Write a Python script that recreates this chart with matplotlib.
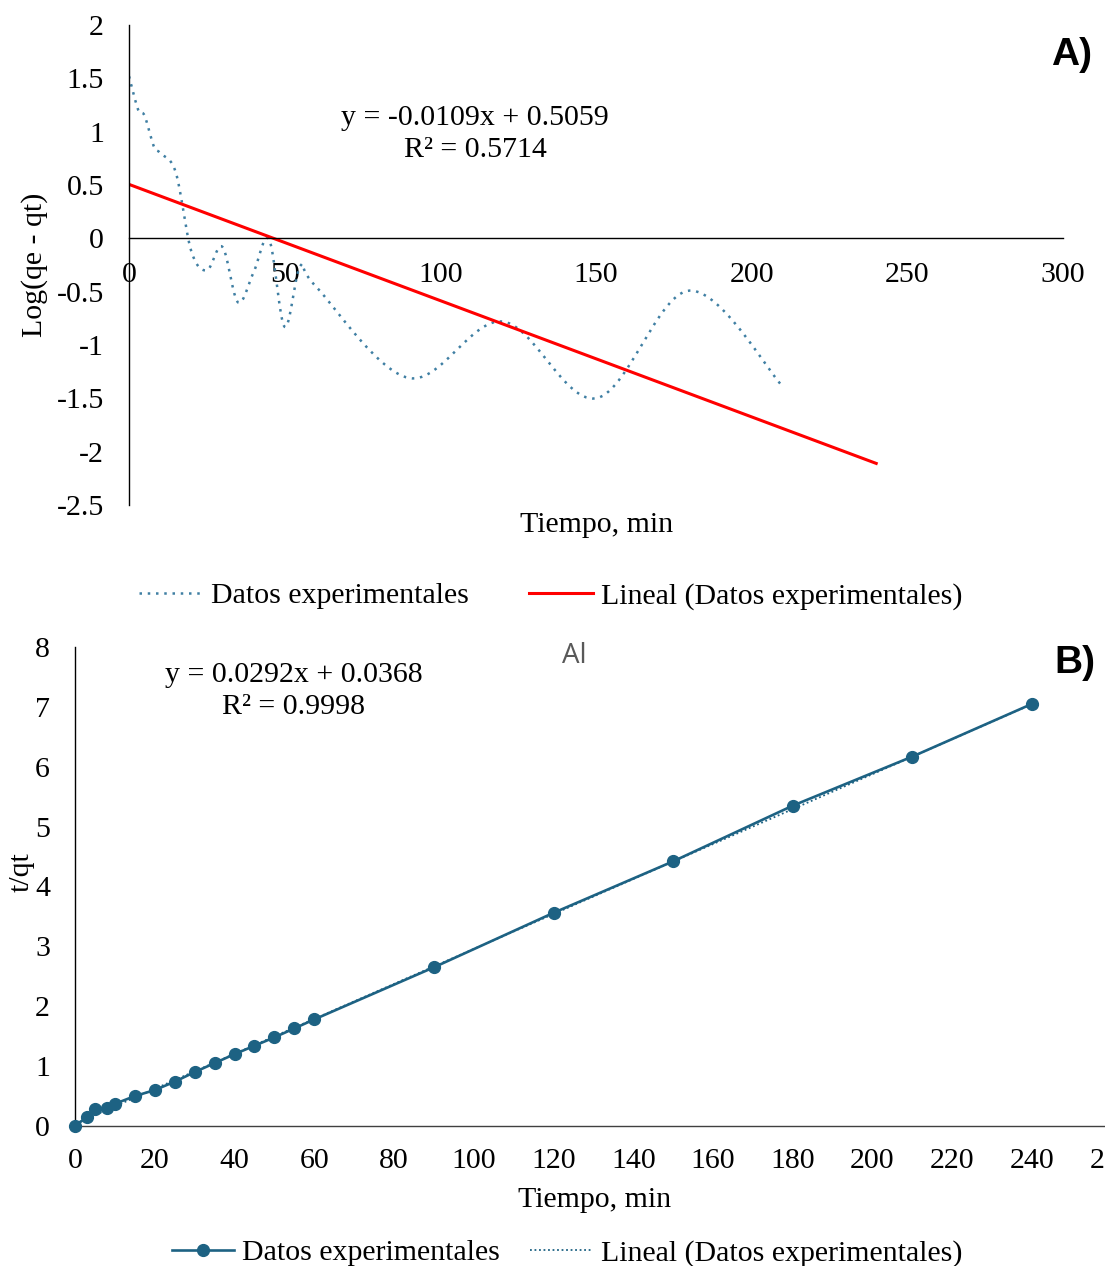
import numpy as np
import matplotlib
matplotlib.use("Agg")
import matplotlib.pyplot as plt
from matplotlib.lines import Line2D

plt.rcParams["font.family"] = ["Liberation Serif", "DejaVu Serif"]

# --- datos panel A: pseudo primer orden ---
tiempo_a = [0, 3, 5, 8, 10, 15, 20, 25, 30, 35, 40, 45, 50, 55, 60, 90, 120, 150, 180, 210]
log_qe_qt = [1.52, 1.2, 1.15, 0.86, 0.8, 0.62, -0.12, -0.3, -0.08, -0.6, -0.32, -0.01,
             -0.83, -0.26, -0.45, -1.31, -0.78, -1.5, -0.49, -1.39]
pend_a, inter_a, r2_a = -0.0109, 0.5059, 0.5714
rango_a = [0, 240]

# --- datos panel B: pseudo segundo orden ---
tiempo_b = [0, 3, 5, 8, 10, 15, 20, 25, 30, 35, 40, 45, 50, 55, 60, 90, 120, 150, 180, 210, 240]
t_qt = [0.0, 0.15, 0.28, 0.3, 0.37, 0.5, 0.6, 0.74, 0.9, 1.05, 1.2, 1.34, 1.48, 1.63, 1.78,
        2.65, 3.56, 4.42, 5.35, 6.17, 7.05]
pend_b, inter_b, r2_b = 0.0292, 0.0368, 0.9998
rango_b = [0, 240]

FS = 21.5
AZUL = "#1d6283"
AZUL_CLARO = "#3f7fa3"
W, H = 1105, 1266


def suavizar(x, y, n=30):
    """Curva suavizada tipo Excel (Bezier con puntos de control a 1/6)."""
    p = np.column_stack([x, y]).astype(float)
    ext = np.vstack([p[0], p, p[-1]])
    out = []
    s = np.linspace(0, 1, n)[:, None]
    for i in range(1, len(ext) - 2):
        p0, p3 = ext[i], ext[i + 1]
        c1 = p0 + (ext[i + 1] - ext[i - 1]) / 6
        c2 = p3 - (ext[i + 2] - ext[i]) / 6
        seg = ((1 - s) ** 3) * p0 + 3 * ((1 - s) ** 2) * s * c1 + 3 * (1 - s) * s ** 2 * c2 + s ** 3 * p3
        out.append(seg)
    out = np.vstack(out)
    return out[:, 0], out[:, 1]


def ax_px(left, right, top, bottom):
    return [left / W, 1 - bottom / H, (right - left) / W, (bottom - top) / H]


fig = plt.figure(figsize=(W / 100, H / 100), dpi=100)

# ---------------- panel A ----------------
axa = fig.add_axes(ax_px(129, 1063, 25, 505))
xs, ys = suavizar(tiempo_a, log_qe_qt)
axa.plot(xs, ys, color=AZUL_CLARO, lw=1.8, linestyle=(0, (1, 2.3)))
xr = np.array(rango_a)
axa.plot(xr, pend_a * xr + inter_a, color="#ff0000", lw=2.2)
axa.set_xlim(0, 300)
axa.set_ylim(-2.5, 2)
axa.set_xticks(range(0, 301, 50))
axa.set_yticks(np.arange(-2.5, 2.01, 0.5))
axa.set_yticklabels([f"{v:g}" for v in np.arange(-2.5, 2.01, 0.5)])
axa.spines["bottom"].set_position(("data", 0))
for s in ["top", "right"]:
    axa.spines[s].set_visible(False)
for s in ["left", "bottom"]:
    axa.spines[s].set_linewidth(1.0)
axa.tick_params(axis="x", length=0, pad=17, labelsize=FS)
axa.tick_params(axis="y", length=0, pad=18, labelsize=FS)
fig.text(597 / W, 1 - 525 / H, "Tiempo, min", ha="center", va="center", fontsize=FS)
fig.text(35 / W, 1 - 265 / H, "Log(qe - qt)", ha="center", va="center", rotation=90, fontsize=FS)
fig.text(475 / W, 1 - 118 / H, f"y = {pend_a}x + {inter_a}", ha="center", va="center", fontsize=FS)
fig.text(475 / W, 1 - 150 / H, f"R² = {r2_a}", ha="center", va="center", fontsize=FS)
fig.text(1072 / W, 1 - 55 / H, "A)", ha="center", va="center", fontsize=28,
         fontweight="bold", family=["Liberation Sans", "DejaVu Sans"])

handles_a = [Line2D([], [], color=AZUL_CLARO, lw=1.8, linestyle=(0, (1, 2.3))),
             Line2D([], [], color="#ff0000", lw=2.2)]
fig.legend(handles_a, ["Datos experimentales", "Lineal (Datos experimentales)"],
           loc="center", bbox_to_anchor=(551 / W, 1 - 596 / H), ncol=2, frameon=False,
           fontsize=FS, handlelength=2.15, handletextpad=0.27, columnspacing=2.0)

# ---------------- panel B ----------------
axb = fig.add_axes(ax_px(75, 75 + 260 * 3.9875, 647, 1126))
axb.plot(tiempo_b, t_qt, color=AZUL, lw=1.9, marker="o", markersize=8.5, zorder=3, clip_on=False)
xr = np.array(rango_b)
axb.plot(xr, pend_b * xr + inter_b, color=AZUL, lw=1.3, linestyle=(0, (1, 1.5)), zorder=2)
axb.set_xlim(0, 260)
axb.set_ylim(0, 8)
axb.set_xticks(range(0, 261, 20))
axb.set_yticks(range(0, 9))
for s in ["top", "right"]:
    axb.spines[s].set_visible(False)
axb.spines["left"].set_linewidth(1.0)
axb.spines["bottom"].set_linewidth(1.0)
axb.spines["bottom"].set_color("#404040")
axb.tick_params(axis="x", length=0, pad=16, labelsize=FS)
axb.tick_params(axis="y", length=0, pad=18, labelsize=FS)
fig.text(574 / W, 1 - 656 / H, "Al", ha="center", va="center", fontsize=20, color="#595959",
         family=["Open Sans", "DejaVu Sans"])
fig.text(595 / W, 1 - 1200 / H, "Tiempo, min", ha="center", va="center", fontsize=FS)
fig.text(22 / W, 1 - 872 / H, "t/qt", ha="center", va="center", rotation=90, fontsize=FS)
fig.text(294 / W, 1 - 675 / H, f"y = {pend_b}x + {inter_b}", ha="center", va="center", fontsize=FS)
fig.text(294 / W, 1 - 707 / H, f"R² = {r2_b}", ha="center", va="center", fontsize=FS)
fig.text(1075 / W, 1 - 663 / H, "B)", ha="center", va="center", fontsize=28,
         fontweight="bold", family=["Liberation Sans", "DejaVu Sans"])

handles_b = [Line2D([], [], color=AZUL, lw=1.9, marker="o", markersize=8.5),
             Line2D([], [], color=AZUL, lw=1.3, linestyle=(0, (1, 1.5)))]
fig.legend(handles_b, ["Datos experimentales", "Lineal (Datos experimentales)"],
           loc="center", bbox_to_anchor=(567 / W, 1 - 1253 / H), ncol=2, frameon=False,
           fontsize=FS, handlelength=2.1, handletextpad=0.27, columnspacing=1.0)

fig.savefig("out.png", dpi=100)
